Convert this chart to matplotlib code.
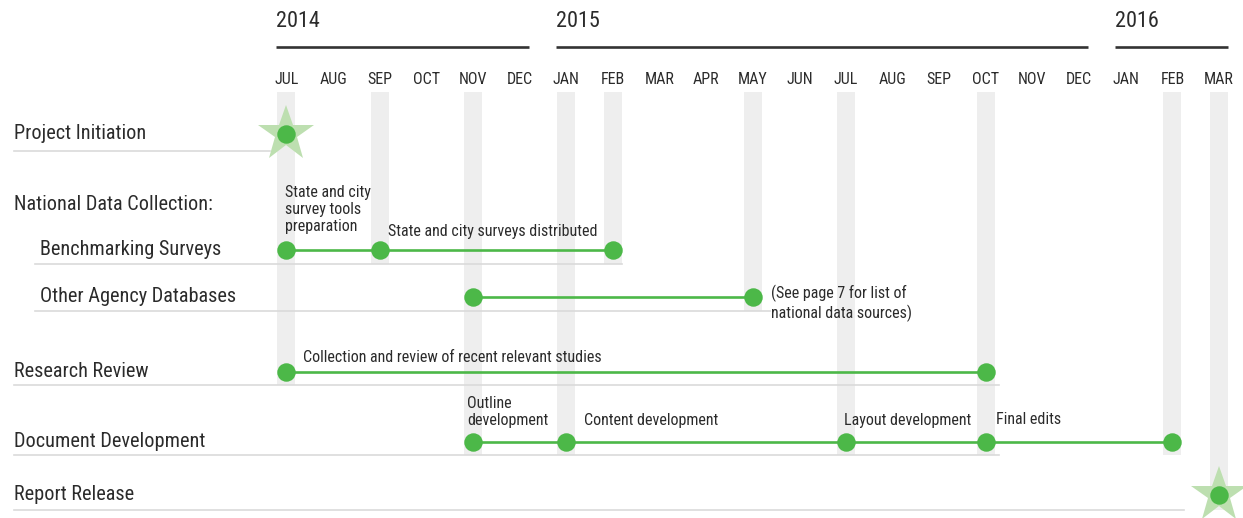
import matplotlib
matplotlib.use("Agg")
import matplotlib.pyplot as plt
from matplotlib import font_manager
from matplotlib.transforms import blended_transform_factory

# Font: pick a narrow sans if one is installed
fonts = font_manager.fontManager.ttflist
names = {f.name for f in fonts}
narrow = {f.name for f in fonts if f.stretch == "condensed"}
FONT, STRETCH = "DejaVu Sans", "condensed"
for cand in ["Liberation Sans Narrow", "Roboto Condensed", "Open Sans Condensed"]:
    if cand in names:
        FONT, STRETCH = cand, "normal"
        break
else:
    for cand in ["Roboto", "Noto Sans", "Open Sans", "Lato"]:
        if cand in narrow:
            FONT = cand
            break
plt.rcParams["font.family"] = [FONT, "DejaVu Sans"]
plt.rcParams["font.stretch"] = STRETCH

# Timeline data
months = ["JUL", "AUG", "SEP", "OCT", "NOV", "DEC",
          "JAN", "FEB", "MAR", "APR", "MAY", "JUN", "JUL", "AUG", "SEP", "OCT", "NOV", "DEC",
          "JAN", "FEB", "MAR"]
years = ["2014", "2015", "2016"]
year_first = [0, 6, 18]
year_last = [5, 17, 20]

tasks = ["Project Initiation", "National Data Collection:", "Benchmarking Surveys",
         "Other Agency Databases", "Research Review", "Document Development", "Report Release"]
task_indent = [0, 0, 1, 1, 0, 0, 0]

milestones = {
    "Project Initiation": [0],
    "Benchmarking Surveys": [0, 2, 7],
    "Other Agency Databases": [4, 10],
    "Research Review": [0, 15],
    "Document Development": [4, 6, 12, 15, 19],
    "Report Release": [20],
}
star_tasks = ["Project Initiation", "Report Release"]

note_text = ["State and city\nsurvey tools\npreparation",
             "State and city surveys distributed",
             "(See page 7 for list of\nnational data sources)",
             "Collection and review of recent relevant studies",
             "Outline\ndevelopment",
             "Content development",
             "Layout development",
             "Final edits"]
note_task = ["Benchmarking Surveys", "Benchmarking Surveys", "Other Agency Databases",
             "Research Review", "Document Development", "Document Development",
             "Document Development", "Document Development"]
note_month = [0, 2, 10, 0, 4, 6, 12, 15]

# Layout (pixels on a 1243x518 canvas, x0/step map months to pixels)
W, H = 1243, 518
X0, STEP = 286.5, 46.625
row_y = {"Project Initiation": 134, "National Data Collection:": 205,
         "Benchmarking Surveys": 250, "Other Agency Databases": 296.5,
         "Research Review": 372, "Document Development": 441.5, "Report Release": 495}
rule_y = {"Project Initiation": 151, "Benchmarking Surveys": 264,
          "Other Agency Databases": 311, "Research Review": 384.5,
          "Document Development": 454.5, "Report Release": 509.5}
rule_end = {"Project Initiation": -0.35, "Benchmarking Surveys": 7.2,
            "Other Agency Databases": 10.37, "Research Review": 15.28,
            "Document Development": 15.28, "Report Release": 19.25}
note_dx = [-0.04, 0.18, 0.4, 0.35, -0.13, 0.38, -0.05, 0.21]
note_dy = [-40.5, -18.5, 6.5, -14, -29.5, -21.5, -21.5, -21.5]

TEXT = "#2b2b2b"
GREEN = "#4cb848"
STAR = "#bddfb0"
BAR = "#eeeeee"
RULE = "#dadada"


def px2m(px):
    return (px - X0) / STEP


fig = plt.figure(figsize=(W / 100, H / 100), dpi=100)
ax = fig.add_axes([0, 0, 1, 1])
ax.set_xlim(px2m(0), px2m(W))
ax.set_ylim(H, 0)
ax.axis("off")
lab = blended_transform_factory(ax.transAxes, ax.transData)
renderer = fig.canvas.get_renderer()


def fit_size(sample, width_px, guess):
    # font size that gives the sample string the width seen in the reference
    t = fig.text(0, 0, sample, fontsize=guess)
    w = t.get_window_extent(renderer).width
    t.remove()
    return guess * width_px / w


FS_YEAR = fit_size("2014", 44, 16)
FS_MONTH = fit_size("NOV", 28.5, 12)
FS_TASK = fit_size("Project Initiation", 132, 15)
FS_NOTE = fit_size("Collection and review of recent relevant studies", 298, 11)

# years and months header
for name, a, b in zip(years, year_first, year_last):
    ax.plot([a - 0.22, b + 0.2], [47, 47], color="#333333", lw=1.9, solid_capstyle="butt")
    ax.text(a - 0.22, 21.5, name, fontsize=FS_YEAR, color=TEXT, ha="left", va="center")
for i, m in enumerate(months):
    ax.text(i, 79.5, m, fontsize=FS_MONTH, color=TEXT, ha="center", va="center")

# gray month bars down to the lowest row with a milestone there
bar_bottom = {}
for t, ms in milestones.items():
    for m in ms:
        bar_bottom[m] = max(bar_bottom.get(m, 0), rule_y[t])
bm = sorted(bar_bottom)
ax.bar(bm, [bar_bottom[m] - 92 for m in bm], bottom=92, width=18 / STEP,
       color=BAR, zorder=1)

# task labels and rules
for t, ind in zip(tasks, task_indent):
    lx = (40 if ind else 14) / W
    ax.text(lx, row_y[t] - 0.3, t, transform=lab, fontsize=FS_TASK, color=TEXT,
            ha="left", va="center")
    if t in rule_y:
        sx = px2m(35 if ind else 14)
        ax.plot([sx, rule_end[t]], [rule_y[t]] * 2, color=RULE, lw=1.2, zorder=2)

# milestone lines, dots and stars
for t, ms in milestones.items():
    y = row_y[t]
    if len(ms) > 1:
        ax.plot([ms[0], ms[-1]], [y, y], color=GREEN, lw=1.9, zorder=3,
                solid_capstyle="butt")
    if t in star_tasks:
        ax.plot(ms, [y] * len(ms), "*", ms=42, color=STAR, mew=0, zorder=4)
    ax.plot(ms, [y] * len(ms), "o", ms=13.3, color=GREEN, mew=0, zorder=5)

# notes
for txt, t, m, dx, dy in zip(note_text, note_task, note_month, note_dx, note_dy):
    ax.text(m + dx, row_y[t] + dy, txt, fontsize=FS_NOTE, color=TEXT, ha="left",
            va="center", linespacing=1.2, zorder=6)

fig.savefig("out.png", dpi=100)
